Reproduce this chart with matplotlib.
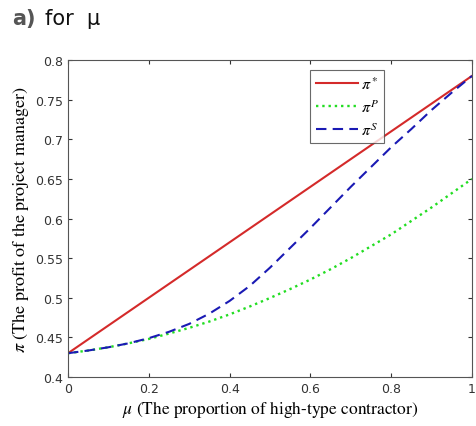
import matplotlib
matplotlib.use("Agg")
import matplotlib.pyplot as plt

mu = [0.0, 0.05, 0.1, 0.15, 0.2, 0.25, 0.3, 0.35, 0.4, 0.45, 0.5,
      0.55, 0.6, 0.65, 0.7, 0.75, 0.8, 0.85, 0.9, 0.95, 1.0]
pi_star = [0.43, 0.4475, 0.465, 0.4825, 0.50, 0.5175, 0.535, 0.5525, 0.57, 0.5875, 0.605,
           0.6225, 0.64, 0.6575, 0.675, 0.6925, 0.71, 0.7275, 0.745, 0.7625, 0.78]
pi_p = [0.43, 0.4334, 0.4375, 0.4425, 0.448, 0.4548, 0.462, 0.470, 0.479, 0.489, 0.4997,
        0.511, 0.523, 0.536, 0.550, 0.565, 0.580, 0.597, 0.614, 0.632, 0.65]
pi_s = [0.43, 0.4334, 0.4375, 0.4425, 0.449, 0.457, 0.467, 0.480, 0.496, 0.515, 0.538,
        0.563, 0.588, 0.614, 0.640, 0.665, 0.690, 0.713, 0.737, 0.759, 0.78]

plt.rcParams['mathtext.fontset'] = 'stix'

fig = plt.figure(figsize=(4.77, 4.27), dpi=100)
ax = fig.add_axes([0.1426, 0.1148, 0.8469, 0.7422])

ax.plot(mu, pi_star, '-', color='#d42a2a', lw=1.5, label=r'$\pi^*$')
ax.plot(mu, pi_p, ':', color='#22dd22', lw=1.7, label=r'$\pi^P$')
ax.plot(mu, pi_s, '--', color='#1a1ab4', lw=1.5, dashes=(5, 3), label=r'$\pi^S$')

ax.set_xlim(0, 1)
ax.set_ylim(0.4, 0.8)
ax.set_xticks([0, 0.2, 0.4, 0.6, 0.8, 1])
ax.set_xticklabels(['0', '0.2', '0.4', '0.6', '0.8', '1'])
ax.set_yticks([0.4, 0.45, 0.5, 0.55, 0.6, 0.65, 0.7, 0.75, 0.8])
ax.set_yticklabels(['0.4', '0.45', '0.5', '0.55', '0.6', '0.65', '0.7', '0.75', '0.8'])
ax.tick_params(direction='in', top=True, right=True, labelsize=9,
               colors='#333333', length=3)
for s in ax.spines.values():
    s.set_color('#555555')

ax.set_xlabel(r'$\mu$ (The proportion of high-type contractor)',
              family='STIXGeneral', fontsize=12.5, labelpad=2)
ax.set_ylabel(r'$\pi$ (The profit of the project manager)',
              family='STIXGeneral', fontsize=13, labelpad=3)

leg = ax.legend(loc='upper left', bbox_to_anchor=(0.6, 0.97), fontsize=11.5,
                fancybox=False, edgecolor='#444444', handlelength=2.6,
                handletextpad=0.2, borderpad=0.35, labelspacing=0.4,
                borderaxespad=0)
leg.get_frame().set_linewidth(0.8)

fig.text(0.025, 0.955, 'a)', fontsize=15, fontweight='bold', color='#555555',
         va='center', family='DejaVu Sans')
fig.text(0.095, 0.955, 'for  μ', fontsize=15, color='#111111',
         va='center', family='DejaVu Sans')

fig.savefig('out.png', dpi=100)
